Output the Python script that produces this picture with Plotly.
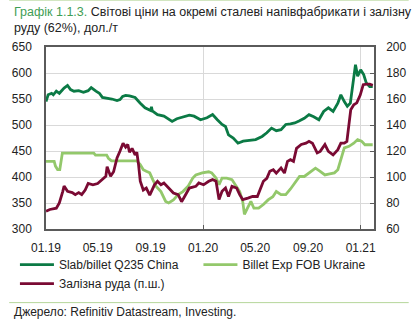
import plotly.graph_objects as go

# Slab/billet Q235 China, USD/t (left axis)
slab_dates = [
    "2019-01-01", "2019-01-06", "2019-01-14", "2019-01-18", "2019-01-25", "2019-02-01",
    "2019-02-12", "2019-02-20", "2019-02-27", "2019-03-07", "2019-03-18", "2019-03-29",
    "2019-04-09", "2019-04-16", "2019-04-27", "2019-05-05", "2019-05-12", "2019-05-23",
    "2019-06-03", "2019-06-15", "2019-06-22", "2019-06-28", "2019-07-05", "2019-07-14",
    "2019-07-27", "2019-08-08", "2019-08-19", "2019-09-01", "2019-09-03", "2019-09-05",
    "2019-09-17", "2019-10-02", "2019-10-21", "2019-11-01", "2019-11-15", "2019-11-30",
    "2019-12-11", "2019-12-26", "2020-01-10", "2020-01-23", "2020-02-03", "2020-02-14",
    "2020-02-22", "2020-02-29", "2020-03-11", "2020-03-22", "2020-04-03", "2020-04-17",
    "2020-05-02", "2020-05-17", "2020-05-28", "2020-06-08", "2020-06-19", "2020-06-30",
    "2020-07-11", "2020-07-22", "2020-08-01", "2020-08-12", "2020-08-23", "2020-09-03",
    "2020-09-14", "2020-09-26", "2020-10-07", "2020-10-18", "2020-10-29", "2020-11-09",
    "2020-11-16", "2020-11-24", "2020-12-01", "2020-12-08", "2020-12-14", "2020-12-20",
    "2020-12-25", "2021-01-01", "2021-01-08", "2021-01-14", "2021-01-22", "2021-01-29",
]
slab_values = [
    545, 558, 561, 558, 565, 561,
    571, 576, 568, 565, 566, 563,
    566, 572, 565, 561, 553, 552,
    550, 547, 549, 555, 557, 556,
    553, 542, 533, 528, 535, 527,
    520, 517, 507, 512, 515, 519,
    517, 510, 514, 520, 510, 501,
    497, 481, 475, 465, 469, 471,
    472, 478, 485, 494, 489, 491,
    501, 502, 504, 508, 513, 520,
    516, 510, 526, 533, 526, 542,
    558, 545, 536, 542, 578, 616,
    594, 606, 597, 581, 574, 574,
]

# Billet Exp FOB Ukraine, USD/t (left axis)
billet_dates = [
    "2019-01-01", "2019-01-20", "2019-01-23", "2019-01-28", "2019-02-02", "2019-02-06",
    "2019-02-08", "2019-04-22", "2019-04-26", "2019-05-22", "2019-05-26", "2019-06-02",
    "2019-07-31", "2019-08-08", "2019-08-15", "2019-08-22", "2019-08-30", "2019-09-06",
    "2019-09-14", "2019-09-25", "2019-10-06", "2019-10-13", "2019-10-24", "2019-11-04",
    "2019-11-15", "2019-11-27", "2019-12-08", "2019-12-15", "2019-12-30", "2020-01-14",
    "2020-01-21", "2020-01-31", "2020-02-07", "2020-02-14", "2020-02-25", "2020-03-08",
    "2020-03-19", "2020-03-26", "2020-04-02", "2020-04-06", "2020-04-13", "2020-04-21",
    "2020-04-28", "2020-05-09", "2020-05-20", "2020-05-31", "2020-06-11", "2020-06-19",
    "2020-06-30", "2020-07-11", "2020-07-22", "2020-08-01", "2020-08-12", "2020-08-23",
    "2020-09-03", "2020-09-18", "2020-09-29", "2020-10-10", "2020-10-21", "2020-11-01",
    "2020-11-09", "2020-11-16", "2020-11-24", "2020-12-05", "2020-12-16", "2020-12-25",
    "2021-01-03", "2021-01-11", "2021-01-22", "2021-01-29",
]
billet_values = [
    430, 430, 421, 414, 414, 440,
    446, 446, 442, 442, 436, 431,
    431, 424, 414, 411, 408, 395,
    382, 372, 353, 350, 356, 366,
    372, 382, 398, 404, 408, 410,
    408, 398, 385, 398, 398, 395,
    382, 372, 353, 328, 340, 353,
    340, 340, 347, 356, 362, 372,
    366, 366, 377, 388, 401, 401,
    408, 417, 411, 404, 406, 408,
    414, 433, 456, 459, 465, 472,
    469, 462, 462, 462,
]

# Iron ore 62%, USD/t (right axis)
ore_dates = [
    "2019-01-01", "2019-01-10", "2019-01-25", "2019-02-01", "2019-02-09", "2019-02-12",
    "2019-02-20", "2019-03-03", "2019-03-10", "2019-03-18", "2019-03-25", "2019-04-02",
    "2019-04-09", "2019-04-20", "2019-05-01", "2019-05-12", "2019-05-20", "2019-05-23",
    "2019-05-31", "2019-06-07", "2019-06-15", "2019-06-22", "2019-06-29", "2019-07-05",
    "2019-07-10", "2019-07-14", "2019-07-20", "2019-07-27", "2019-07-31", "2019-08-04",
    "2019-08-08", "2019-08-15", "2019-08-22", "2019-08-30", "2019-09-10", "2019-09-17",
    "2019-09-25", "2019-10-02", "2019-10-13", "2019-10-24", "2019-11-04", "2019-11-12",
    "2019-11-19", "2019-11-30", "2019-12-15", "2019-12-22", "2020-01-02", "2020-01-14",
    "2020-01-23", "2020-01-31", "2020-02-07", "2020-02-14", "2020-02-22", "2020-02-29",
    "2020-03-08", "2020-03-19", "2020-03-26", "2020-04-02", "2020-04-14", "2020-04-25",
    "2020-05-06", "2020-05-13", "2020-05-20", "2020-05-28", "2020-06-04", "2020-06-12",
    "2020-06-19", "2020-06-30", "2020-07-08", "2020-07-15", "2020-07-22", "2020-07-29",
    "2020-08-05", "2020-08-16", "2020-08-27", "2020-09-03", "2020-09-11", "2020-09-22",
    "2020-09-29", "2020-10-10", "2020-10-18", "2020-10-29", "2020-11-09", "2020-11-16",
    "2020-11-24", "2020-11-30", "2020-12-05", "2020-12-09", "2020-12-16", "2020-12-23",
    "2020-12-31", "2021-01-07", "2021-01-15", "2021-01-22", "2021-01-29",
]
ore_values = [
    73.6, 75, 76, 80, 89, 93,
    89, 88, 86.4, 88, 86.4, 90,
    95, 94, 95, 98, 100.5, 108,
    100.5, 104, 114.6, 120, 126, 123,
    125, 119, 122, 117, 119, 109.5,
    96.7, 90, 91.5, 86, 94, 96.7,
    94, 95.4, 91.5, 87.7, 86.4, 81,
    85, 91.5, 92.8, 95.4, 94, 96.7,
    98, 96.7, 82.6, 89, 91.5, 85,
    92.8, 91.5, 86.4, 82.6, 83.8, 85,
    85, 91.5, 96.7, 99, 104.4, 105.6,
    103, 107, 103, 112, 113.3, 112,
    122, 125, 126, 127.4, 126, 118.5,
    119.7, 125, 119.7, 117, 121, 126,
    126, 127.4, 142.8, 151.8, 155.6, 157,
    163, 171, 171.5, 171.5, 170.5,
]

x_tickvals = ["2019-01-01", "2019-05-01", "2019-09-01", "2020-01-01",
              "2020-05-01", "2020-09-01", "2021-01-01"]
x_ticktext = ["01.19", "05.19", "09.19", "01.20", "05.20", "09.20", "01.21"]

FONT = "Arial, Liberation Sans, sans-serif"
DARK_GREEN = "#0b7a45"
LIGHT_GREEN = "#93c86b"
MAROON = "#7a0a33"
AXIS = "#5a5a5a"
GRID = "#d9d9d9"
TEXT = "#222222"

fig = go.Figure()
fig.add_trace(go.Scatter(x=slab_dates, y=slab_values, name="Slab/billet Q235 China",
                         mode="lines", line=dict(color=DARK_GREEN, width=2.8),
                         legend="legend"))
fig.add_trace(go.Scatter(x=billet_dates, y=billet_values, name="Billet Exp FOB Ukraine",
                         mode="lines", line=dict(color=LIGHT_GREEN, width=2.8),
                         legend="legend2"))
fig.add_trace(go.Scatter(x=ore_dates, y=ore_values, name="Залізна руда (п.ш.)",
                         mode="lines", line=dict(color=MAROON, width=2.8), yaxis="y2",
                         legend="legend"))

# paper-coordinate helpers for the 418x327 canvas
L, R, T, B = 38.5, 381.7, 47.3, 229.0
def px_x(px):
    return (px - L) / (R - L)
def px_y(py):
    return (B - py) / (B - T)

legend_style = dict(
    orientation="v", xanchor="left", y=px_y(250), yanchor="top",
    itemwidth=34, font=dict(family=FONT, size=12, color=TEXT),
    bgcolor="rgba(0,0,0,0)", tracegroupgap=0,
)

fig.update_layout(
    width=418, height=327,
    margin=dict(l=L, r=418 - R, t=T, b=327 - B),
    paper_bgcolor="white", plot_bgcolor="white",
    font=dict(family=FONT, size=12, color=TEXT),
    xaxis=dict(
        type="date", range=["2019-01-01", "2021-02-01"],
        tickvals=x_tickvals, ticktext=x_ticktext,
        showgrid=False, ticks="", ticklabelstandoff=7,
        showline=True, linecolor=AXIS, linewidth=1.5, mirror=True,
        minor=dict(tickvals=["2020-01-01", "2021-01-01"], showgrid=True,
                   gridcolor=GRID, gridwidth=1, ticks="inside", ticklen=4,
                   tickcolor=AXIS),
        zeroline=False,
    ),
    yaxis=dict(
        range=[300, 650], dtick=50, tick0=300,
        showgrid=True, gridcolor=GRID, gridwidth=1,
        showline=True, linecolor=AXIS, linewidth=1.5,
        ticks="", ticklabelstandoff=10, zeroline=False,
    ),
    yaxis2=dict(
        range=[60, 200], dtick=20, tick0=60, overlaying="y", side="right",
        showgrid=False, showline=True, linecolor=AXIS, linewidth=1.5,
        ticks="inside", ticklen=4, tickcolor=AXIS, ticklabelstandoff=8,
        zeroline=False,
    ),
    legend=dict(x=px_x(6), **legend_style),
    legend2=dict(x=px_x(198), **legend_style),
    shapes=[
        dict(type="line", xref="paper", yref="paper", x0=px_x(0), x1=px_x(418),
             y0=px_y(0.5), y1=px_y(0.5), line=dict(color="#b5d69a", width=1)),
        dict(type="line", xref="paper", yref="paper", x0=px_x(0), x1=px_x(418),
             y0=px_y(302.5), y1=px_y(302.5), line=dict(color="#b5d69a", width=1)),
    ],
    annotations=[
        dict(text=('<span style="color:#3f9e55">Графік 1.1.3.</span> Світові ціни на окремі '
                   'сталеві напівфабрикати і залізну<br>руду (62%), дол./т'),
             xref="paper", yref="paper", x=px_x(3), y=px_y(3),
             xanchor="left", yanchor="top", align="left", showarrow=False,
             font=dict(family=FONT, size=12.5, color=TEXT)),
        dict(text="Джерело: Refinitiv Datastream, Investing.", xref="paper", yref="paper",
             x=px_x(3), y=px_y(312), xanchor="left", yanchor="middle", showarrow=False,
             font=dict(family=FONT, size=12, color=TEXT)),
    ],
)

fig.write_html("out.html")
